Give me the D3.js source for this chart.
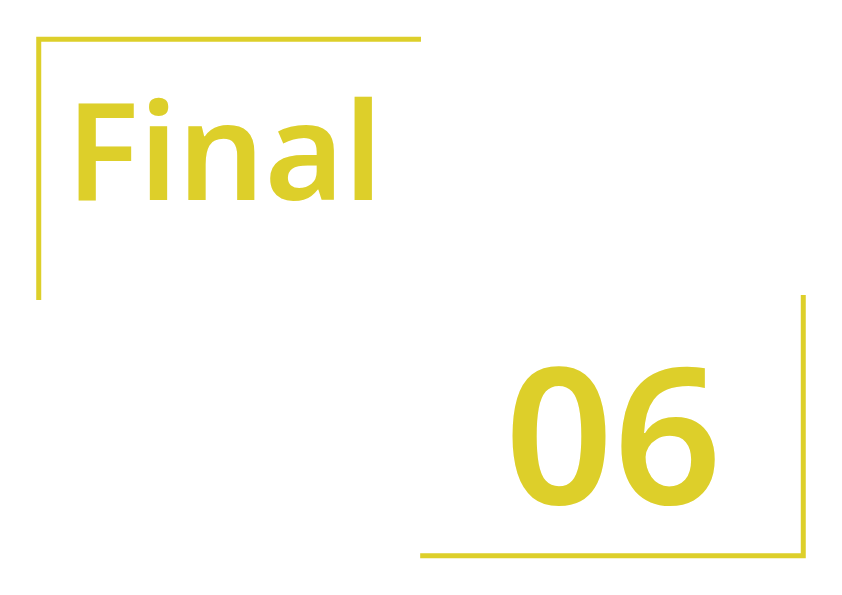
<!DOCTYPE html>
<html>
<head>
<meta charset="utf-8">
<script src="https://cdn.jsdelivr.net/npm/d3@7"></script>
<style>body{margin:0;background:#fff}</style>
</head>
<body>
<svg id="c" width="842" height="595"></svg>
<script>
// labels shown on the card
const labels = ["Final", "06"];
// bracket corners, in 0..1 of the card
const brackets = [
  [[0.497, 0.066], [0.046, 0.066], [0.046, 0.5]],
  [[0.954, 0.5], [0.954, 0.934], [0.502, 0.934]]
];

const width = 842, height = 595, yellow = "#ddcf2a";
const svg = d3.select("#c");
const x = d3.scaleLinear().domain([0, 1]).range([0, width]);
const y = d3.scaleLinear().domain([0, 1]).range([0, height]);

const line = d3.line().x(d => x(d[0])).y(d => y(d[1]));

svg.selectAll("path.bracket")
  .data(brackets)
  .enter().append("path")
  .attr("class", "bracket")
  .attr("d", line)
  .attr("fill", "none")
  .attr("stroke", yellow)
  .attr("stroke-width", 5)
  .attr("stroke-linecap", "square");

svg.append("text")
  .attr("x", 66).attr("y", 200)
  .style("font-family", "'Noto Sans', sans-serif")
  .style("font-weight", 600)
  .style("font-size", "136px")
  .attr("fill", yellow)
  .text(labels[0]);

svg.append("text")
  .attr("x", 722).attr("y", 504)
  .attr("text-anchor", "end")
  .style("font-family", "'Noto Sans', sans-serif")
  .style("font-weight", 600)
  .style("font-size", "190px")
  .attr("fill", yellow)
  .text(labels[1]);
</script>
</body>
</html>
